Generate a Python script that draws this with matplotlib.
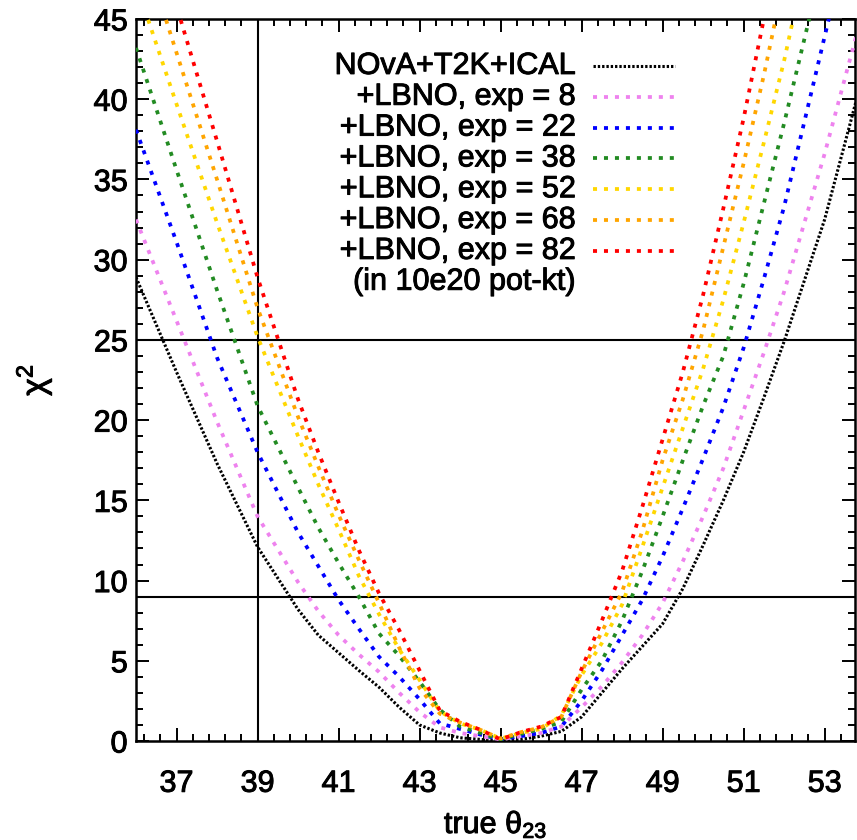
import numpy as np
import matplotlib
matplotlib.use("Agg")
import matplotlib.pyplot as plt
import matplotlib.patheffects as pe
from matplotlib.ticker import FixedLocator

plt.rcParams['font.family'] = ['Liberation Sans', 'DejaVu Sans']
plt.rcParams['mathtext.fontset'] = 'custom'
plt.rcParams['mathtext.rm'] = 'Liberation Sans'
plt.rcParams['mathtext.it'] = 'Liberation Sans'
plt.rcParams['mathtext.default'] = 'rm'
plt.rcParams['lines.scale_dashes'] = False

# true theta23 grid (degrees)
theta = [36, 37, 38, 39, 40, 40.5, 41, 41.5, 42, 42.5, 43, 43.5, 44, 44.5, 45,
         45.5, 46, 46.5, 47, 47.5, 48, 48.5, 49, 49.5, 50, 50.5, 51, 51.5, 52, 53, 54]

chi_base = [28.9, 23.0, 17.3, 12.1, 8.2, 6.6, 5.5, 4.4, 3.35, 2.1, 1.0, 0.5, 0.2, 0.1, 0.0,
            0.1, 0.3, 0.6, 1.5, 3.0, 4.5, 5.9, 7.3, 9.5, 12.2, 15.0, 18.0, 21.4, 24.9, 32.5, 42.0]
chi_8 = [32.5, 26.2, 19.9, 14.0, 9.9, 8.1, 6.6, 5.4, 4.3, 3.0, 1.8, 0.85, 0.5, 0.3, 0.1,
         0.3, 0.5, 0.9, 2.1, 3.4, 4.9, 6.6, 8.6, 11.2, 14.0, 17.0, 20.6, 24.2, 28.0, 36.6, 46.0]
chi_22 = [38.1, 31.1, 23.9, 18.0, 13.0, 10.9, 8.8, 7.0, 5.25, 4.0, 2.6, 1.1, 0.75, 0.4, 0.1,
          0.3, 0.5, 0.9, 2.5, 4.4, 6.6, 8.8, 11.5, 14.5, 17.6, 20.8, 24.5, 28.8, 33.3, 43.9, 54.6]
chi_38 = [43.2, 35.6, 28.1, 20.9, 15.8, 13.3, 11.1, 9.0, 6.7, 5.3, 3.7, 1.95, 0.9, 0.5, 0.1,
          0.45, 0.75, 1.2, 3.2, 5.0, 7.5, 10.6, 14.0, 17.5, 20.9, 24.0, 28.5, 33.5, 38.5, 49.0, 59.0]
chi_52 = [47.2, 39.7, 32.3, 25.2, 19.0, 16.0, 13.2, 10.3, 7.9, 5.7, 3.8, 1.85, 1.1, 0.7, 0.15,
          0.5, 0.75, 1.6, 4.1, 6.1, 8.5, 12.1, 15.8, 19.5, 23.2, 27.5, 32.3, 37.3, 42.4, 54.0, 65.0]
chi_68 = [50.8, 42.9, 35.0, 27.0, 20.2, 17.1, 14.1, 11.3, 8.6, 5.8, 3.3, 1.7, 1.15, 0.7, 0.15,
          0.55, 0.85, 1.5, 4.3, 6.8, 9.3, 13.1, 17.5, 21.3, 25.6, 30.8, 36.0, 41.5, 47.5, 59.0, 71.0]
chi_82 = [54.4, 45.8, 37.4, 28.9, 21.3, 18.0, 14.9, 11.9, 9.2, 6.9, 4.4, 1.9, 1.2, 0.7, 0.1,
          0.55, 0.9, 1.5, 4.5, 7.5, 10.6, 14.6, 18.8, 23.0, 27.8, 33.2, 38.8, 45.0, 51.0, 63.0, 75.0]

labels = ["NOvA+T2K+ICAL", "+LBNO, exp = 8", "+LBNO, exp = 22", "+LBNO, exp = 38",
          "+LBNO, exp = 52", "+LBNO, exp = 68", "+LBNO, exp = 82"]
colors = ["black", "violet", "blue", "forestgreen", "gold", "orange", "red"]
curves = [chi_base, chi_8, chi_22, chi_38, chi_52, chi_68, chi_82]

# slightly heavier text, like the gnuplot png terminal
heavy = [pe.withStroke(linewidth=0.7, foreground="black")]

fig = plt.figure(figsize=(8.57, 8.4), dpi=100)
ax = fig.add_axes([136/857, 99/840, 719/857, 722/840])

# reference lines
ax.axhline(9, color="black", lw=1.5, zorder=1)
ax.axhline(25, color="black", lw=1.5, zorder=1)
ax.axvline(39, color="black", lw=1.5, zorder=1)

for i in range(len(curves)):
	if i == 0:
		ls = (0, (1.7, 1.4))
		lw = 2.2
	else:
		ls = (0, (2.9, 5.0))
		lw = 2.7
	ax.plot(theta, curves[i], color=colors[i], lw=lw, linestyle=ls,
	        dash_capstyle="butt", zorder=2 + i)
	# key entry, gnuplot style: text right, sample on the right
	ky = 0.935 - i * 0.0427
	ax.text(0.611, ky, labels[i], transform=ax.transAxes, ha="right", va="center",
	        fontsize=22, path_effects=heavy)
	ax.plot([0.6356, 0.7497], [ky, ky], transform=ax.transAxes, color=colors[i], lw=lw,
	        linestyle=ls, dash_capstyle="butt")
ax.text(0.611, 0.935 - 7 * 0.0427, "(in 10e20 pot-kt)", transform=ax.transAxes,
        ha="right", va="center", fontsize=22, path_effects=heavy)

ax.set_xlim(36, 53.75)
ax.set_ylim(0, 45)

ax.set_xticks(np.arange(37, 54, 2))
ax.xaxis.set_minor_locator(FixedLocator(np.arange(36.2, 53.8, 0.4)))
ax.set_yticks(np.arange(0, 46, 5))
ax.yaxis.set_minor_locator(FixedLocator(np.arange(0, 46, 1)))

ax.tick_params(which="both", direction="in", top=True, right=True, width=1.4, labelsize=22)
ax.tick_params(which="major", length=9.4)
ax.tick_params(which="minor", length=4.7)
ax.tick_params(axis="x", pad=20)
ax.tick_params(axis="y", pad=6)
for sp in ax.spines.values():
	sp.set_linewidth(1.8)
for t in ax.get_xticklabels() + ax.get_yticklabels():
	t.set_path_effects(heavy)

ax.set_xlabel(r"true $\theta_{23}$", fontsize=22, path_effects=heavy)
ax.set_ylabel(r"$\chi^{2}$", fontsize=24, path_effects=heavy)
ax.xaxis.set_label_coords(0.5, -0.093)
ax.yaxis.set_label_coords(-0.113, 0.5)

plt.savefig("out.png", dpi=100)
